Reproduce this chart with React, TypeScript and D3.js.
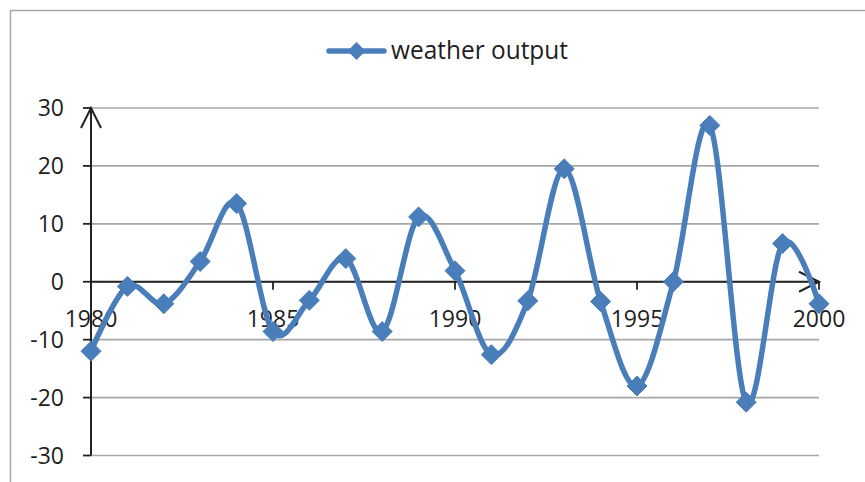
import React from "react";
import * as d3 from "d3";

const years: number[] = [1980, 1981, 1982, 1983, 1984, 1985, 1986, 1987, 1988, 1989, 1990, 1991, 1992, 1993, 1994, 1995, 1996, 1997, 1998, 1999, 2000];
const weatherOutput: number[] = [-12, -0.8, -3.8, 3.5, 13.5, -8.6, -3.2, 4.0, -8.6, 11.2, 1.9, -12.6, -3.3, 19.5, -3.4, -18, 0, 27, -20.8, 6.6, -3.8];
const yTicks: number[] = [-30, -20, -10, 0, 10, 20, 30];
const xTickLabels: number[] = [1980, 1985, 1990, 1995, 2000];
const seriesName = "weather output";

const W = 865;
const H = 482;
const BLUE = "#4A7EBB";
const FONT = "'Open Sans', Lato, sans-serif";

export default function App() {
  const x = d3.scaleLinear().domain([1980, 2000]).range([91, 819]);
  const y = d3.scaleLinear().domain([-30, 30]).range([455.5, 108]);
  const pts: [number, number][] = years.map((yr, i) => [x(yr), y(weatherOutput[i])]);
  const line = d3.line().curve(d3.curveCardinal.tension(0))(pts) || "";
  const diamond = (cx: number, cy: number, r: number) =>
    `M${cx},${cy - r}L${cx + r},${cy}L${cx},${cy + r}L${cx - r},${cy}Z`;
  const y0 = y(0);
  const xL = x(1980);
  const xR = x(2000);
  const yTop = y(30);

  return (
    <>
      <style>{"body{margin:0}"}</style>
      <svg width={W} height={H} style={{ display: "block" }}>
        <rect x={0} y={0} width={W} height={H} fill="#fff" />
        <rect x={10.5} y={10.5} width={W + 20} height={H + 20} fill="none" stroke="#a6a6a6" strokeWidth={1.5} />
        {/* gridlines */}
        {yTicks.map((t) => (
          <line key={"g" + t} x1={xL} x2={xR} y1={y(t)} y2={y(t)} stroke="#a6a6a6" strokeWidth={1.6} />
        ))}
        {/* y ticks */}
        {yTicks.map((t) => (
          <line key={"yt" + t} x1={xL - 8} x2={xL} y1={y(t)} y2={y(t)} stroke="#222" strokeWidth={1.8} />
        ))}
        {yTicks.map((t) => (
          <text key={"yl" + t} x={64} y={y(t)} dy="0.36em" textAnchor="end" fontFamily={FONT} fontSize={23} fill="#1e1e1e">
            {t}
          </text>
        ))}
        {/* axes */}
        <line x1={xL} x2={xL} y1={yTop} y2={y(-30)} stroke="#222" strokeWidth={2} />
        <line x1={xL} x2={xR} y1={y0} y2={y0} stroke="#222" strokeWidth={2} />
        {/* x ticks */}
        {xTickLabels.map((t) => (
          <line key={"xt" + t} x1={x(t)} x2={x(t)} y1={y0} y2={y0 + 8} stroke="#222" strokeWidth={1.8} />
        ))}
        {/* arrows */}
        <path d={`M${xL - 10},${yTop + 20}L${xL},${yTop}L${xL + 10},${yTop + 20}`} fill="none" stroke="#222" strokeWidth={2} />
        <path d={`M${xR - 20},${y0 - 10}L${xR},${y0}L${xR - 20},${y0 + 10}`} fill="none" stroke="#222" strokeWidth={2} />
        {/* x labels */}
        {xTickLabels.map((t) => (
          <text key={"xl" + t} x={x(t)} y={y0 + 45} textAnchor="middle" fontFamily={FONT} fontSize={23} fill="#1e1e1e">
            {t}
          </text>
        ))}
        {/* series */}
        <path d={line} fill="none" stroke={BLUE} strokeWidth={5.5} strokeLinejoin="round" strokeLinecap="round" />
        {pts.map(([px, py], i) => (
          <path key={"m" + i} d={diamond(px, py, 10)} fill={BLUE} stroke={BLUE} strokeWidth={1} />
        ))}
        {/* legend */}
        <line x1={329} x2={384} y1={51} y2={51} stroke={BLUE} strokeWidth={5.5} strokeLinecap="round" />
        <path d={diamond(356.5, 51, 9)} fill={BLUE} />
        <text x={391} y={59} fontFamily={FONT} fontSize={25} fill="#1e1e1e" textLength={177} lengthAdjust="spacingAndGlyphs">
          {seriesName}
        </text>
      </svg>
    </>
  );
}
